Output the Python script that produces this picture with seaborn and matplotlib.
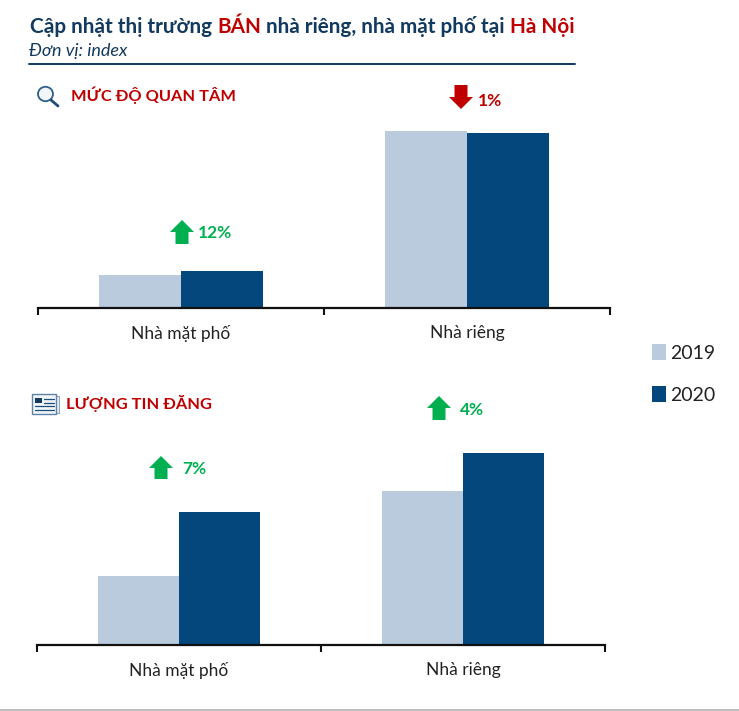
import matplotlib
matplotlib.use("Agg")
import matplotlib.pyplot as plt
import seaborn as sns
import pandas as pd
from matplotlib.patches import Polygon, Rectangle, Circle
from matplotlib.lines import Line2D

categories = ["Nhà mặt phố", "Nhà riêng"]
years = ["2019", "2020"]
interest_2019 = [33, 177]
interest_2020 = [37, 175]
listings_2019 = [69, 154]
listings_2020 = [133, 192]
interest_changes = ["12%", "1%"]
listings_changes = ["7%", "4%"]
colors = {"2019": "#B9CBDD", "2020": "#03477C"}
NAVY = "#12395F"; RED = "#C00000"; GREEN = "#00B050"; TEXT = "#222222"

W, H = 739, 711
sns.set_theme(style="white")
plt.rcParams["font.family"] = ["Lato", "Open Sans", "DejaVu Sans"]
fig = plt.figure(figsize=(W / 100, H / 100), dpi=100, facecolor="white")

def px(x, y):
    return x / W, 1 - y / H

def make_axes(left, right, top, base, a, b):
    ax = fig.add_axes([left / W, 1 - base / H, (right - left) / W, (base - top) / H])
    df = pd.DataFrame({
        "cat": categories * 2,
        "year": [years[0]] * 2 + [years[1]] * 2,
        "val": list(a) + list(b),
    })
    sns.barplot(data=df, x="cat", y="val", hue="year", palette=colors, width=0.57,
                saturation=1, errorbar=None, ax=ax, legend=True, linewidth=0)
    ax.set_xlim(-0.5, 1.5)
    ax.set_ylim(0, base - top)
    ax.set_xlabel(""); ax.set_ylabel(""); ax.set_yticks([])
    ax.set_xticks([0, 1]); ax.set_xticklabels(categories, fontsize=12.5, color=TEXT)
    ax.tick_params(axis="x", which="major", length=0, pad=12)
    ax.set_xticks([-0.5, 0.5, 1.5], minor=True)
    ax.tick_params(axis="x", which="minor", bottom=True, length=5, width=1.5, color="#111111", direction="out")
    for s in ["top", "left", "right"]:
        ax.spines[s].set_visible(False)
    ax.spines["bottom"].set_linewidth(1.6); ax.spines["bottom"].set_color("#111111")
    ax.patch.set_alpha(0)
    return ax

ax1 = make_axes(38, 610, 120, 308, interest_2019, interest_2020)
ax2 = make_axes(36.5, 605, 440, 645, listings_2019, listings_2020)
handles, labels = ax1.get_legend_handles_labels()
ax1.get_legend().remove(); ax2.get_legend().remove()
fig.legend(handles, labels, loc="upper left", bbox_to_anchor=(652 / W, 1 - 344 / H),
           frameon=False, fontsize=14, handlelength=0.7, handleheight=0.9,
           handletextpad=0.25, labelspacing=1.25, labelcolor=TEXT, borderpad=0, borderaxespad=0)

# Title made of coloured runs
parts = [("Cập nhật thị trường ", NAVY), ("BÁN", RED), (" nhà riêng, nhà mặt phố tại ", NAVY), ("Hà Nội", RED)]
x = 30
r = fig.canvas.get_renderer()
for s, c in parts:
    t = fig.text(*px(x, 33), s.replace(" ", "\u00a0"), color=c, fontsize=14.95, fontweight="bold", va="baseline", ha="left")
    x = t.get_window_extent(r).x1
fig.text(*px(29, 56), "Đơn vị: index", fontsize=13, style="italic", color=NAVY)
fig.add_artist(Line2D([29 / W, 575 / W], [1 - 63.5 / H] * 2, color=NAVY, lw=1.4))
fig.text(*px(71, 101), "MỨC ĐỘ QUAN TÂM", fontsize=11.8, fontweight="bold", color=RED)
fig.text(*px(66, 409), "LƯỢNG TIN ĐĂNG", fontsize=11.8, fontweight="bold", color=RED)

def arrow(cx, top, bottom, color, up=True):
    hw, sw, hh = 12, 6.5, 12
    if up:
        pts = [(cx, top), (cx + hw, top + hh), (cx + sw, top + hh), (cx + sw, bottom),
               (cx - sw, bottom), (cx - sw, top + hh), (cx - hw, top + hh)]
    else:
        pts = [(cx, bottom), (cx + hw, bottom - hh), (cx + sw, bottom - hh), (cx + sw, top),
               (cx - sw, top), (cx - sw, bottom - hh), (cx - hw, bottom - hh)]
    fig.add_artist(Polygon([px(*p) for p in pts], closed=True, fc=color, ec="none", transform=fig.transFigure))

arrow(182, 220, 244, GREEN)
fig.text(*px(198, 238), interest_changes[0], color=GREEN, fontsize=12.5, fontweight="bold")
arrow(461, 85, 109, RED, up=False)
fig.text(*px(478, 106.5), interest_changes[1], color=RED, fontsize=12.5, fontweight="bold")
arrow(161, 456, 479, GREEN)
fig.text(*px(182, 474), listings_changes[0], color=GREEN, fontsize=12.5, fontweight="bold")
arrow(439, 396, 420, GREEN)
fig.text(*px(460, 415), listings_changes[1], color=GREEN, fontsize=12.5, fontweight="bold")

# Magnifier icon
fig.add_artist(Circle(px(45.5, 94), 7.5 / W, fc="#F3F6F9", ec="#2F5F8A", lw=1.3, transform=fig.transFigure))
fig.add_artist(Line2D([51 / W, 58 / W], [1 - 100 / H, 1 - 106 / H], color="#1F4E79", lw=2))

# Newspaper icon
def rect(x0, y0, x1, y1, **k):
    fig.add_artist(Rectangle(px(x0, y1), (x1 - x0) / W, (y1 - y0) / H, transform=fig.transFigure, **k))
rect(54, 396, 59, 413, fc="#E8EEF4", ec="#8FA6BD", lw=0.8)
rect(32, 394, 56, 414, fc="#F1F5F9", ec="#5F83A6", lw=1)
rect(35, 398, 42, 403, fc="#12395F", ec="none")
for y0, x0 in [(399, 44), (402.5, 44), (406, 35), (409.5, 35)]:
    fig.add_artist(Line2D([x0 / W, 54 / W], [1 - y0 / H] * 2, color="#1F4E79", lw=0.9))

# Bottom edge strip
rect(0, 709, W, 711, fc="#BEBEBE", ec="none")

fig.savefig("out.png", dpi=100, facecolor="white")
